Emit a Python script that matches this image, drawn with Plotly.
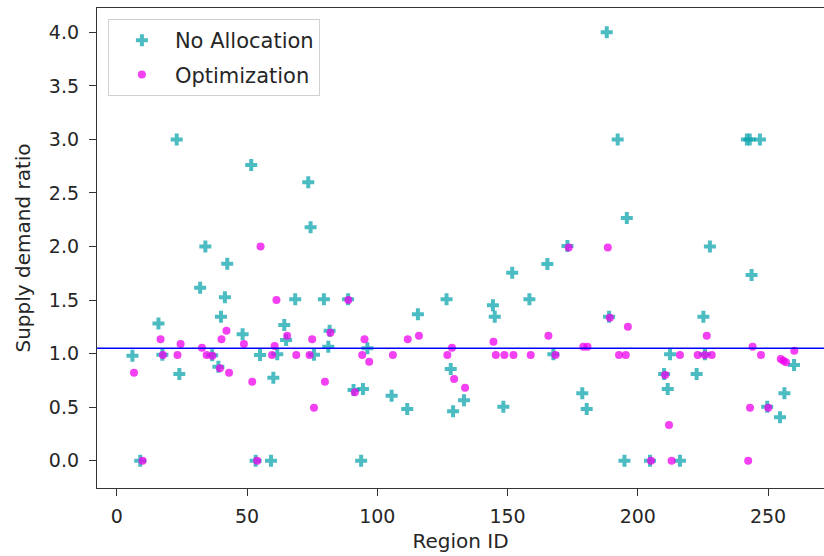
import plotly.graph_objects as go

# --- data ---
noalloc_x = [6, 9, 16, 17.5, 23, 24, 32, 34, 36.6, 39, 40, 41.5, 42.4, 48.3, 51.6, 53.3, 55, 59.2,
             60.1, 61.6, 64.3, 65, 68.5, 73.5, 74.4, 75.7, 79.5, 81.2, 81.7, 88.8, 90.9, 93.8, 94.5,
             96.2, 105.5, 111.5, 115.6, 126.6, 128.2, 129.1, 133.3, 144.4, 145.1, 148.4, 151.8,
             158.4, 165.3, 167.6, 173, 178.7, 180.4, 188.1, 189, 192.3, 194.9, 195.8, 204.7, 210.1,
             211.5, 212.4, 216.2, 222.6, 225.2, 225.8, 227.7, 241.9, 243, 243.7, 246.9, 249.7,
             254.6, 256.3, 260]
noalloc_y = [0.98, 0.0, 1.28, 0.99, 3.0, 0.81, 1.615, 2.0, 0.985, 0.878, 1.345, 1.525, 1.84, 1.18,
             2.76, 0.0, 0.987, 0.0, 0.775, 0.993, 1.267, 1.127, 1.507, 2.60, 2.18, 0.99, 1.507,
             1.064, 1.214, 1.507, 0.66, 0.0, 0.67, 1.05, 0.607, 0.483, 1.367, 1.507, 0.856, 0.461,
             0.564, 1.451, 1.345, 0.504, 1.755, 1.507, 1.837, 0.993, 2.005, 0.629, 0.483, 4.0,
             1.345, 3.0, 0.0, 2.266, 0.0, 0.81, 0.67, 0.993, 0.0, 0.81, 1.345, 0.993, 2.0, 3.0,
             3.0, 1.734, 3.0, 0.504, 0.405, 0.629, 0.894]

optim_x = [6.6, 9.9, 16.8, 17.7, 23.3, 24.5, 32.7, 34.5, 36.7, 39.6, 40.2, 42.1, 43.1, 48.8, 52,
           53.9, 55.2, 59.6, 60.6, 61.3, 65.4, 68.9, 74, 75, 75.7, 79.9, 82, 88.9, 91.4, 94.2,
           95.1, 96.9, 106, 111.7, 116, 126.9, 128.7, 129.5, 133.7, 144.6, 145.5, 148.8, 152.3,
           158.9, 165.7, 168.4, 173.5, 179.1, 180.7, 188.5, 189.3, 192.8, 195.4, 196.2, 205.1,
           210.5, 212, 213, 216.2, 223, 225.8, 226.5, 228.4, 242.4, 243.1, 244.1, 247.3, 250.1,
           254.9, 255.9, 256.9, 260.1]
optim_y = [0.82, 0.0, 1.133, 0.987, 0.987, 1.09, 1.055, 0.987, 0.98, 0.863, 1.133, 1.214, 0.82,
           1.09, 0.738, 0.0, 2.0, 0.987, 1.07, 1.50, 1.167, 0.987, 0.987, 1.133, 0.495, 0.738,
           1.195, 1.50, 0.64, 0.987, 1.133, 0.925, 0.987, 1.133, 1.167, 0.987, 1.055, 0.763,
           0.682, 1.111, 0.987, 0.987, 0.987, 0.987, 1.167, 0.987, 1.99, 1.064, 1.064, 1.99,
           1.335, 0.987, 0.987, 1.25, 0.0, 0.80, 0.333, 0.0, 0.987, 0.987, 0.987, 1.167, 0.987,
           0.0, 0.495, 1.064, 0.987, 0.495, 0.95, 0.934, 0.919, 1.027]

hline_y = 1.05
x_ticks = [0, 50, 100, 150, 200, 250]
y_ticks = [0.0, 0.5, 1.0, 1.5, 2.0, 2.5, 3.0, 3.5, 4.0]

FONT = "DejaVu Sans"
TXT = "#262626"

fig = go.Figure()
fig.add_trace(go.Scatter(
    x=noalloc_x, y=noalloc_y, mode="markers", name="No Allocation", legendgroup="a",
    marker=dict(symbol="cross", size=10, color="rgba(0,160,170,0.7)", line=dict(width=0)),
))
fig.add_trace(go.Scatter(
    x=optim_x, y=optim_y, mode="markers", name="Optimization", legendgroup="b",
    marker=dict(symbol="circle", size=8, color="rgba(238,0,238,0.75)", line=dict(width=0)),
))
fig.add_hline(y=hline_y, line=dict(color="#0000ff", width=1.5), layer="above")

fig.update_layout(
    width=824, height=556,
    margin=dict(l=97, r=0, t=8, b=68, pad=0),
    paper_bgcolor="white", plot_bgcolor="white",
    font=dict(family=FONT, size=19, color=TXT),
    showlegend=True,
    legend=dict(
        x=0.015, y=0.977, xanchor="left", yanchor="top",
        bgcolor="rgba(255,255,255,0.8)", bordercolor="#d0d0d0", borderwidth=1,
        font=dict(family=FONT, size=21, color=TXT),
        itemwidth=56, tracegroupgap=4,
    ),
)
fig.update_xaxes(
    range=[-7.6, 271.5], tickvals=x_ticks, ticks="outside", ticklen=7, tickwidth=1.2,
    tickcolor="#333", showline=True, linecolor="#333", linewidth=1.3, mirror=True,
    showgrid=False, zeroline=False, tickfont=dict(size=19, color=TXT),
    ticklabelstandoff=4,
    title=dict(text="Region ID", font=dict(size=20, color=TXT), standoff=8),
)
fig.update_yaxes(
    range=[-0.255, 4.227], tickvals=y_ticks, tickformat=".1f", ticks="outside", ticklen=7,
    tickwidth=1.2, tickcolor="#333", showline=True, linecolor="#333", linewidth=1.3,
    mirror=False, showgrid=False, zeroline=False, tickfont=dict(size=19, color=TXT),
    ticklabelstandoff=6,
    title=dict(text="Supply demand ratio", font=dict(size=20, color=TXT), standoff=12),
)

fig.write_html("out.html")
